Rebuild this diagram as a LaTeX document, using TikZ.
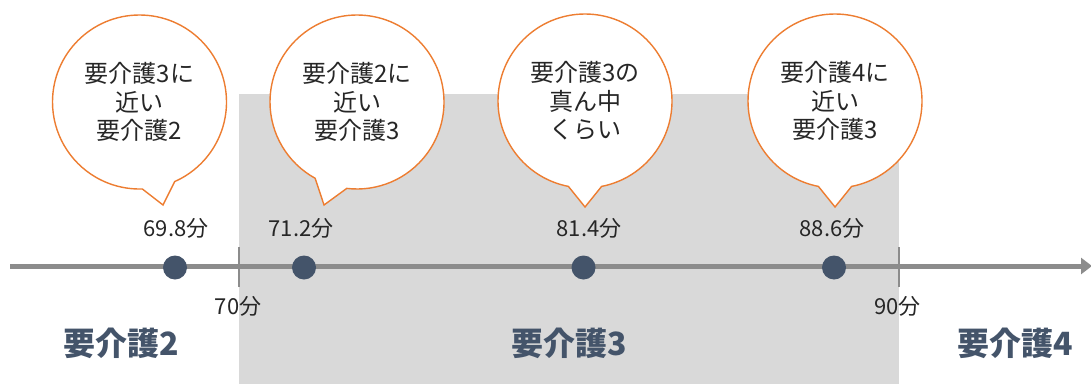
\documentclass[tikz,border=0pt]{standalone}
\usepackage{fontspec}
\newfontfamily\cjk{Noto Sans CJK JP}
\usetikzlibrary{shapes.callouts,arrows.meta}
\definecolor{navy}{HTML}{44546A}
\definecolor{calloutorange}{HTML}{ED7D31}
\definecolor{bandgray}{HTML}{D9D9D9}
\definecolor{axisgray}{HTML}{8C8C8C}
\definecolor{inkblack}{HTML}{262626}
\tikzset{
  bubble/.style={ellipse callout, draw=calloutorange, fill=white, line width=1.4pt,
    minimum width=174pt, minimum height=174pt, inner sep=0pt, align=center,
    callout pointer arc=22, text=inkblack, font=\cjk\fontsize{24}{28.5}\selectfont},
  axisline/.style={draw=axisgray, line width=5pt, -{Triangle[length=11pt,width=16pt]}},
  tickline/.style={draw=axisgray, line width=2.8pt},
  dot/.style={circle, fill=navy, minimum size=24pt, inner sep=0pt},
  vallabel/.style={text=inkblack, font=\cjk\fontsize{22}{26}\selectfont, inner sep=0pt},
  levellabel/.style={text=navy, font=\cjk\bfseries\fontsize{32}{38}\selectfont, inner sep=0pt}
}
\begin{document}
\begin{tikzpicture}[x=1pt,y=1pt]
\useasboundingbox (0,0) rectangle (1091,384);
\fill[bandgray] (239,0) rectangle (899,290);
% callouts
\node[bubble, callout absolute pointer={(163,179)}] (c1) at (139.5,282) {要介護3に\\近い\\要介護2};
\node[bubble, callout absolute pointer={(324,179)}] (c2) at (357,282) {要介護2に\\近い\\要介護3};
\node[bubble, callout absolute pointer={(585,177)}] (c3) at (585,283) {要介護3の\\真ん中\\くらい};
\node[bubble, callout absolute pointer={(835,177)}] (c4) at (835,283) {要介護4に\\近い\\要介護3};
% axis
\coordinate (a0) at (10,118);
\coordinate (a1) at (1092,118);
\draw[axisline] (a0) -- (a1);
\coordinate (t1a) at (239,97); \coordinate (t1b) at (239,137);
\coordinate (t2a) at (899,97); \coordinate (t2b) at (899,137);
\draw[tickline] (t1a) -- (t1b);
\draw[tickline] (t2a) -- (t2b);
% dots
\node[dot] (d1) at (175,116.5) {};
\node[dot] (d2) at (304,116.5) {};
\node[dot] (d3) at (583.5,116.5) {};
\node[dot] (d4) at (834,116.5) {};
% value labels
\node[vallabel] (v1) at (176,156) {69.8分};
\node[vallabel] (v2) at (301,156) {71.2分};
\node[vallabel] (v3) at (589,156) {81.4分};
\node[vallabel] (v4) at (832,156) {88.6分};
\node[vallabel] (m70) at (238,77.5) {70分};
\node[vallabel] (m90) at (897.5,77.5) {90分};
% level labels
\node[levellabel] (l2) at (121.5,41) {要介護2};
\node[levellabel] (l3) at (569,41) {要介護3};
\node[levellabel] (l4) at (1015,41) {要介護4};
\end{tikzpicture}
\end{document}
